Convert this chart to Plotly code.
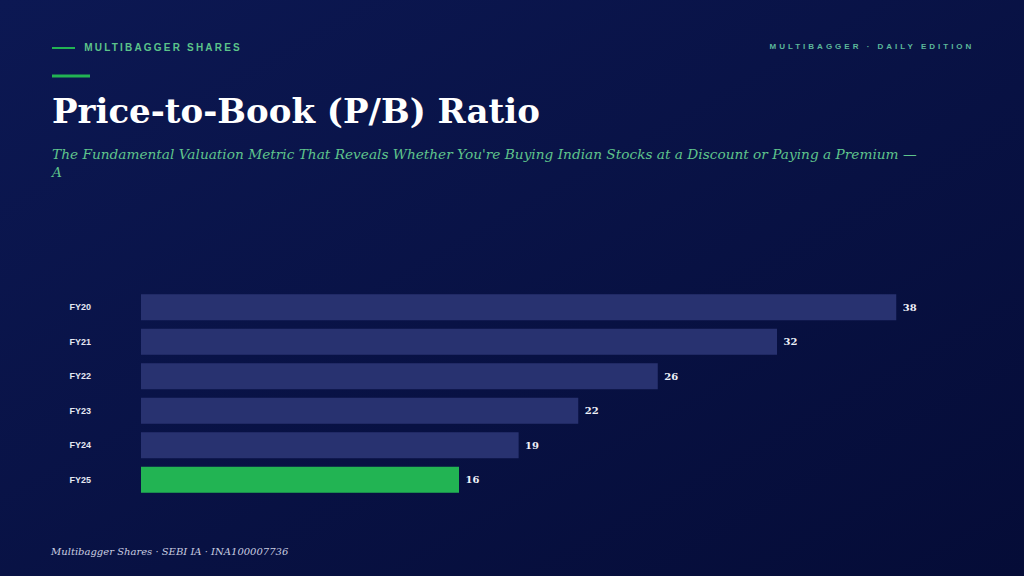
import plotly.graph_objects as go

categories = ["FY20", "FY21", "FY22", "FY23", "FY24", "FY25"]
pb_values = [38, 32, 26, 22, 19, 16]
bar_colors = ["#283270", "#283270", "#283270", "#283270", "#283270", "#22b453"]

W, H = 1024, 576
L, R, T, B = 141, 88, 290, 79
PW, PH = W - L - R, H - T - B

def px(x):
    return (x - L) / PW

def py(y):
    return 1 - (y - T) / PH

fig = go.Figure(go.Bar(
    y=categories, x=pb_values, orientation="h",
    marker=dict(color=bar_colors, line=dict(width=0)),
    text=[f" {v}" for v in pb_values], textposition="outside",
    textfont=dict(family="Georgia, 'DejaVu Serif', serif", size=10, color="#eef0f8", weight="bold"),
    cliponaxis=False, hoverinfo="skip",
))

bg_svg = ("data:image/svg+xml;utf8,<svg xmlns='http://www.w3.org/2000/svg' width='1024' height='576'>"
          "<defs><linearGradient id='g' x1='0' y1='0' x2='1' y2='1'>"
          "<stop offset='0' stop-color='%230c1853'/><stop offset='1' stop-color='%23050c37'/>"
          "</linearGradient></defs><rect width='1024' height='576' fill='url(%23g)'/></svg>")

green = "#5cc48a"
annotations = [
    dict(text="<b>MULTIBAGGER SHARES</b>", x=px(101.5), y=py(47), xanchor="left", yanchor="middle",
         font=dict(family="Liberation Sans, Arial, sans-serif", size=10, color=green)),
    dict(text="<b>MULTIBAGGER · DAILY EDITION</b>", x=px(808), y=py(46), xanchor="left", yanchor="middle",
         font=dict(family="Liberation Sans, Arial, sans-serif", size=8, color="#5cb89a")),
    dict(text="<b>Price-to-Book (P/B) Ratio</b>", x=px(50), y=py(111), xanchor="left", yanchor="middle",
         font=dict(family="Georgia, 'DejaVu Serif', serif", size=34, color="#ffffff")),
    dict(text="<i>The Fundamental Valuation Metric That Reveals Whether You're Buying Indian Stocks at a Discount or Paying a Premium —<br>A</i>",
         x=px(48), y=py(163), xanchor="left", yanchor="middle", align="left",
         font=dict(family="Georgia, 'DejaVu Serif', serif", size=13.7, color="#5fc48c")),
    dict(text="<i>Multibagger Shares · SEBI IA · INA100007736</i>", x=px(48), y=py(551), xanchor="left", yanchor="middle",
         font=dict(family="Georgia, 'DejaVu Serif', serif", size=10, color="#c9cde0")),
]
for a in annotations:
    a.update(xref="paper", yref="paper", showarrow=False)

shapes = [
    dict(type="line", xref="paper", yref="paper", x0=px(52), x1=px(75), y0=py(48), y1=py(48),
         line=dict(color="#22b453", width=2)),
    dict(type="line", xref="paper", yref="paper", x0=px(52), x1=px(90), y0=py(76), y1=py(76),
         line=dict(color="#22b453", width=3)),
]

fig.update_layout(
    width=W, height=H,
    margin=dict(l=L, r=R, t=T, b=B),
    paper_bgcolor="#09134a", plot_bgcolor="rgba(0,0,0,0)",
    bargap=0.25, showlegend=False,
    xaxis=dict(range=[0, 40], visible=False, fixedrange=True),
    yaxis=dict(autorange="reversed", showgrid=False, zeroline=False, showline=False, ticks="",
               ticklabelstandoff=49, fixedrange=True,
               tickfont=dict(family="Liberation Sans, Arial, sans-serif", size=9, color="#e4e7f2", weight="bold")),
    annotations=annotations, shapes=shapes,
    images=[dict(source=bg_svg, xref="paper", yref="paper", x=-L / PW, y=1 + T / PH,
                 sizex=W / PW, sizey=H / PH, sizing="stretch", layer="below",
                 xanchor="left", yanchor="top")],
)

post = """
var s=document.createElement('style');
s.textContent='html,body{margin:0;padding:0;background:#09134a;overflow:hidden;} g.annotation[data-index="0"] text{letter-spacing:2.2px;} g.annotation[data-index="1"] text{letter-spacing:3px;}';
document.head.appendChild(s);
"""
fig.write_html("out.html", config={"displayModeBar": False}, post_script=post)
